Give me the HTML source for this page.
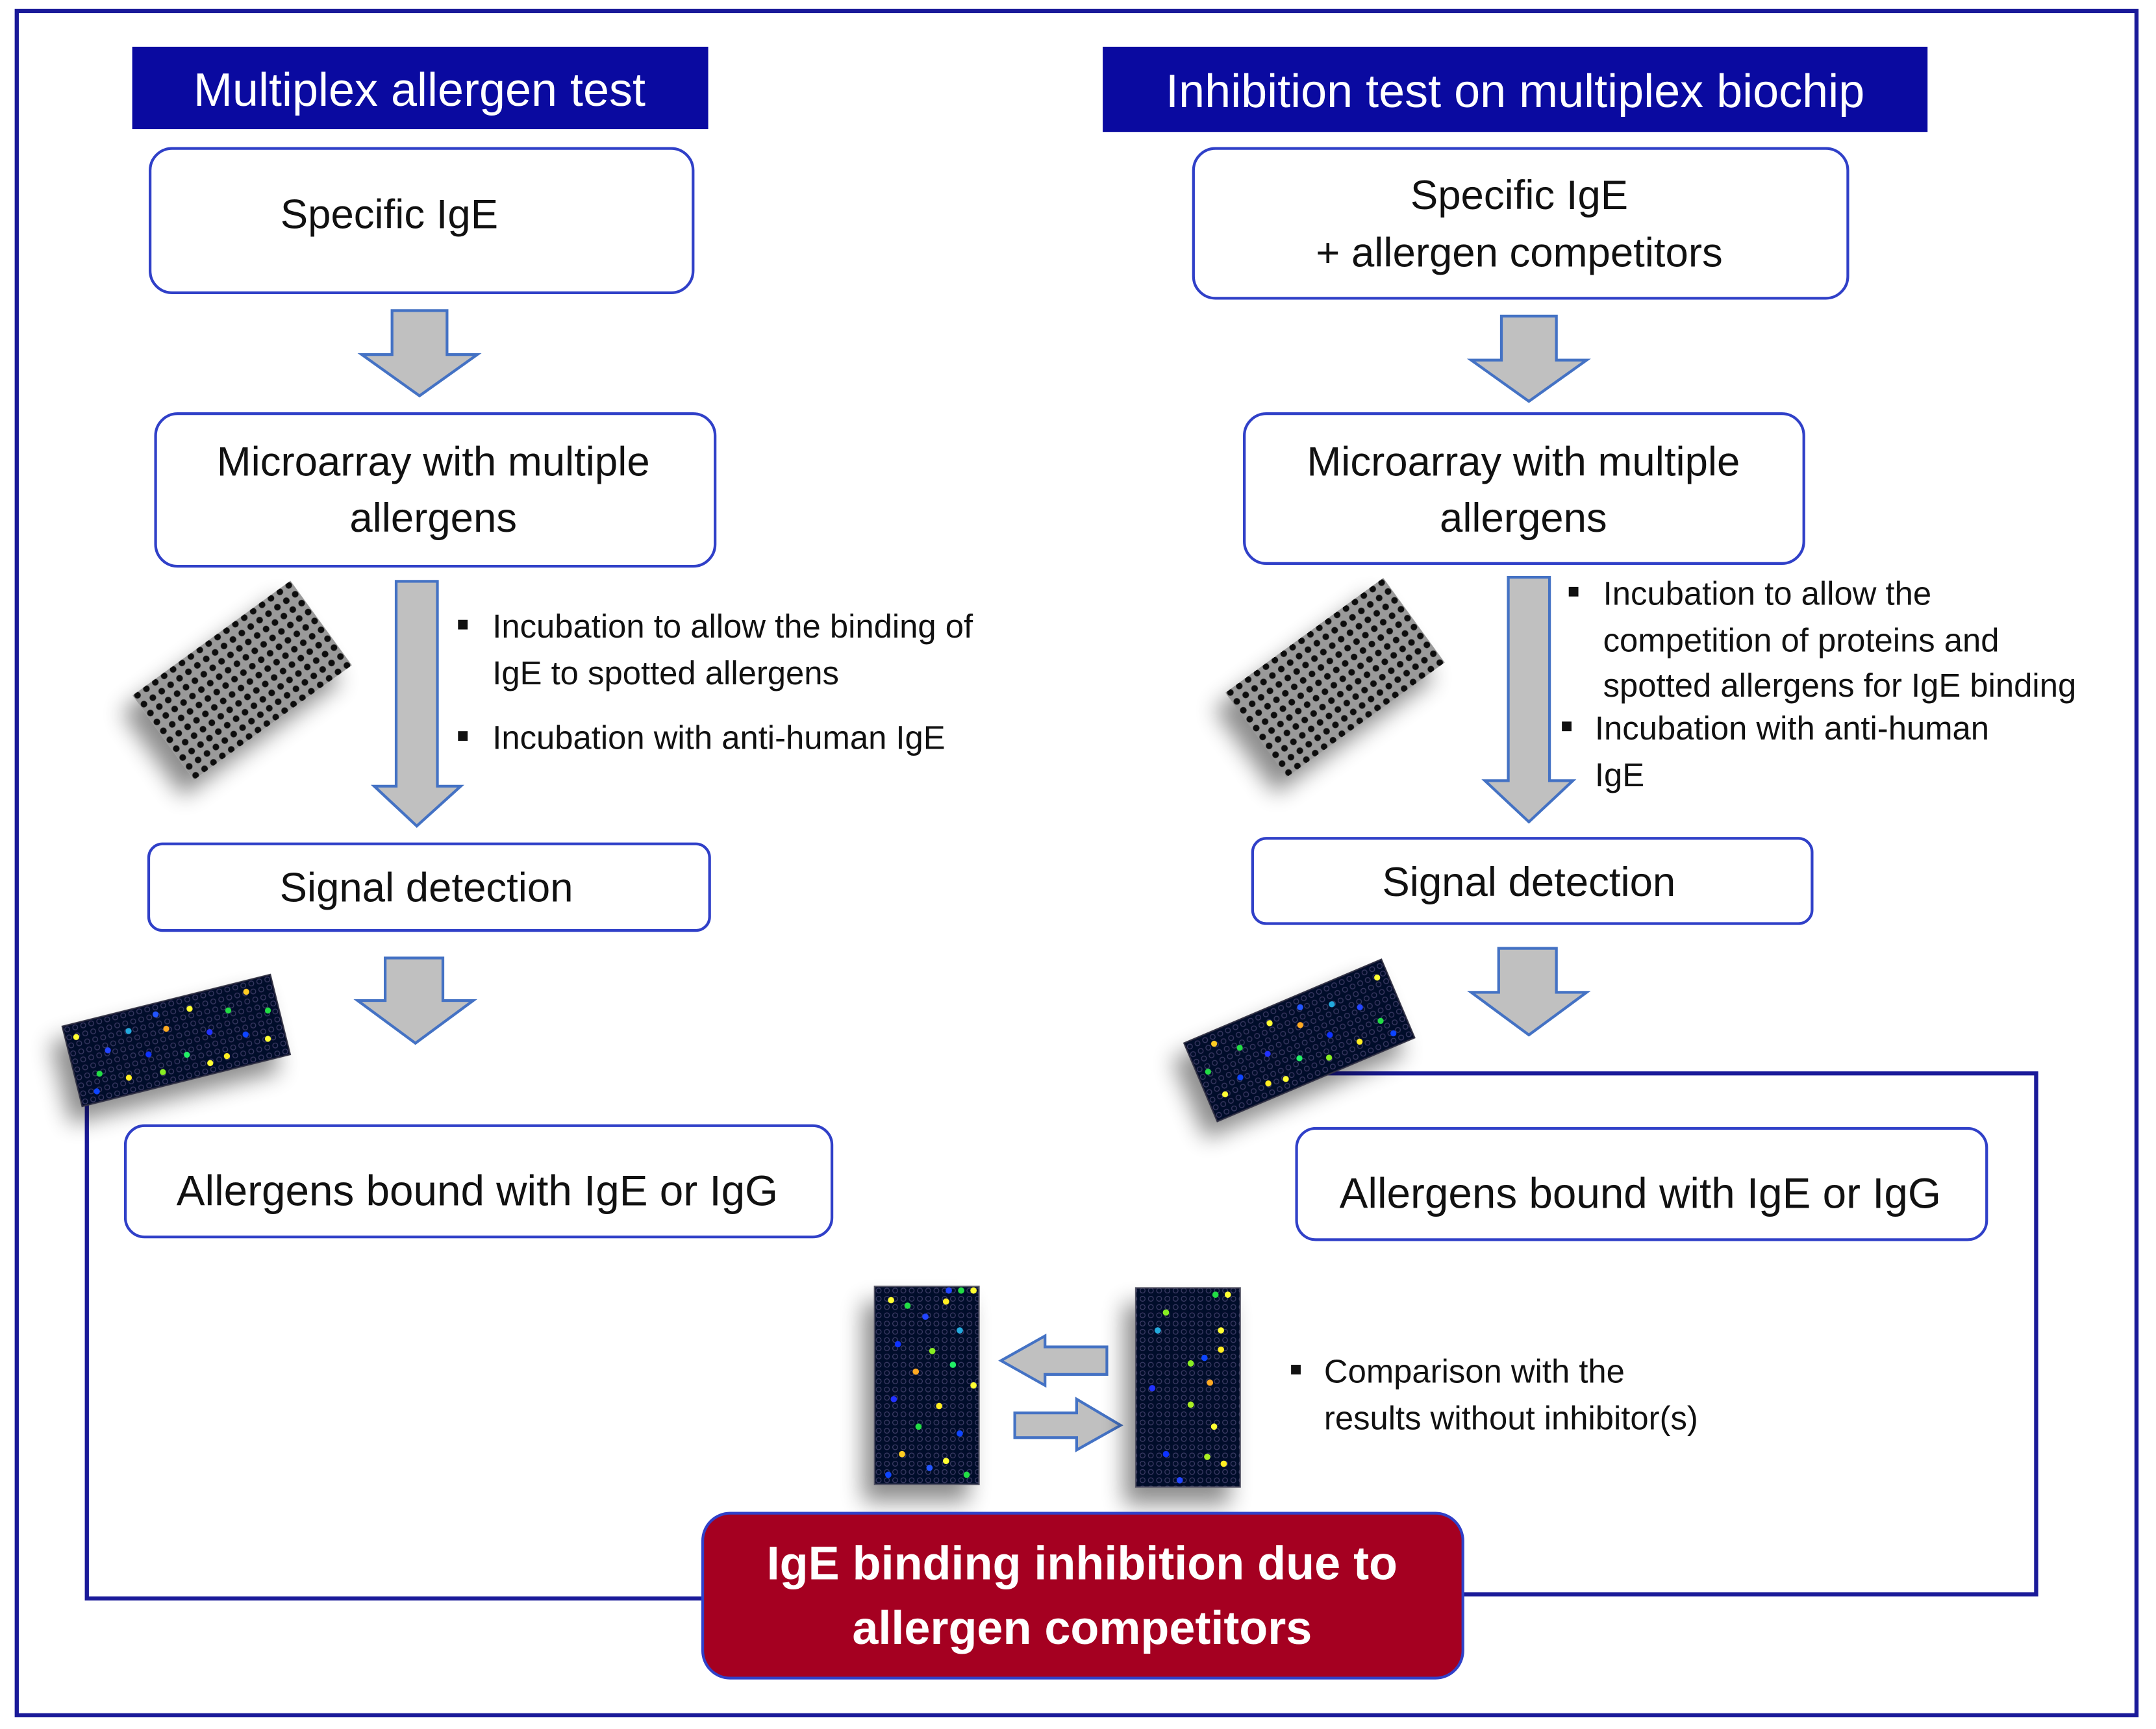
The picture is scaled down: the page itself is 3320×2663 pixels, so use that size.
<!DOCTYPE html>
<html><head><meta charset="utf-8"><style>
html,body{margin:0;padding:0;background:#fff;}
svg{display:block;}
text{font-family:"Liberation Sans",sans-serif;}
</style></head><body>
<svg width="3320" height="2663" viewBox="0 0 1568 1258" xmlns="http://www.w3.org/2000/svg">
<defs>
<pattern id="gp" width="8" height="8" patternUnits="userSpaceOnUse">
<rect width="8" height="8" fill="#9a9a9a"/><circle cx="4" cy="4" r="2.4" fill="#111"/>
</pattern>
<pattern id="dp" width="6" height="6" patternUnits="userSpaceOnUse">
<rect width="6" height="6" fill="#05082a"/><circle cx="3" cy="3" r="1.8" fill="none" stroke="#3a3f66" stroke-width="0.6"/>
</pattern>
<filter id="sh" x="-50%" y="-50%" width="200%" height="200%"><feGaussianBlur in="SourceAlpha" stdDeviation="8"/><feOffset dx="-8" dy="12"/><feComponentTransfer><feFuncA type="linear" slope="0.45"/></feComponentTransfer><feMerge><feMergeNode/><feMergeNode in="SourceGraphic"/></feMerge></filter>
<g id="cols">
<circle cx="10" cy="8" r="2.3" fill="#ffff33"/><circle cx="22" cy="12" r="2.3" fill="#22dd44"/><circle cx="35" cy="20" r="2.3" fill="#2244ff"/><circle cx="50" cy="9" r="2.3" fill="#ffee22"/><circle cx="60" cy="30" r="2.3" fill="#22aadd"/><circle cx="15" cy="40" r="2.3" fill="#1133ff"/><circle cx="40" cy="45" r="2.3" fill="#88ee22"/><circle cx="28" cy="60" r="2.3" fill="#ffaa22"/><circle cx="55" cy="55" r="2.3" fill="#22ee66"/><circle cx="70" cy="70" r="2.3" fill="#ffff33"/><circle cx="12" cy="80" r="2.3" fill="#2233ff"/><circle cx="45" cy="85" r="2.3" fill="#ffee22"/><circle cx="30" cy="100" r="2.3" fill="#22dd44"/><circle cx="60" cy="105" r="2.3" fill="#1144ff"/><circle cx="18" cy="120" r="2.3" fill="#ffcc22"/><circle cx="50" cy="125" r="2.3" fill="#ffff33"/><circle cx="65" cy="135" r="2.3" fill="#22dd44"/><circle cx="8" cy="135" r="2.3" fill="#1144ff"/><circle cx="38" cy="130" r="2.3" fill="#2255ff"/>
</g>
<g id="hdots">
<circle cx="-70" cy="-20" r="2.2" fill="#ffff33"/><circle cx="-60" cy="10" r="2.2" fill="#22dd44"/><circle cx="-50" cy="-5" r="2.2" fill="#2244ff"/><circle cx="-40" cy="18" r="2.2" fill="#ffee22"/><circle cx="-32" cy="-15" r="2.2" fill="#22aadd"/><circle cx="-22" cy="5" r="2.2" fill="#1133ff"/><circle cx="-15" cy="20" r="2.2" fill="#88ee22"/><circle cx="-5" cy="-10" r="2.2" fill="#ffaa22"/><circle cx="5" cy="12" r="2.2" fill="#22ee66"/><circle cx="15" cy="-20" r="2.2" fill="#ffff33"/><circle cx="25" cy="0" r="2.2" fill="#2233ff"/><circle cx="33" cy="20" r="2.2" fill="#ffee22"/><circle cx="42" cy="-12" r="2.2" fill="#22dd44"/><circle cx="50" cy="8" r="2.2" fill="#1144ff"/><circle cx="58" cy="-22" r="2.2" fill="#ffcc22"/><circle cx="65" cy="15" r="2.2" fill="#ffff33"/><circle cx="70" cy="-5" r="2.2" fill="#22dd44"/><circle cx="-65" cy="22" r="2.2" fill="#1144ff"/><circle cx="-10" cy="-22" r="2.2" fill="#2255ff"/><circle cx="20" cy="22" r="2.2" fill="#ffff33"/>
</g>
</defs>

<rect x="12" y="8" width="1542" height="1240" fill="none" stroke="#1a1a99" stroke-width="3"/>

<polyline points="63,795 63,1163 512,1163" fill="none" stroke="#1a1a99" stroke-width="3"/>
<polyline points="965,781 1481,781 1481,1160 1064,1160" fill="none" stroke="#1a1a99" stroke-width="3"/>

<rect x="96" y="34" width="419" height="60" fill="#0a0aa0"/>
<text x="305" y="77" font-size="34" fill="#fff" text-anchor="middle">Multiplex allergen test</text>
<rect x="802" y="34" width="600" height="62" fill="#0a0aa0"/>
<text x="1102" y="78" font-size="34" fill="#fff" text-anchor="middle">Inhibition test on multiplex biochip</text>

<g fill="#fff" stroke="#3040c8" stroke-width="2">
<rect x="109" y="108" width="395" height="105" rx="16"/>
<rect x="113" y="301" width="407" height="111" rx="16"/>
<rect x="108" y="614" width="408" height="63" rx="10"/>
<rect x="91" y="819" width="514" height="81" rx="14"/>
<rect x="868" y="108" width="476" height="109" rx="16"/>
<rect x="905" y="301" width="407" height="109" rx="16"/>
<rect x="911" y="610" width="407" height="62" rx="10"/>
<rect x="943" y="821" width="502" height="81" rx="14"/>
</g>
<g font-size="30" fill="#111" text-anchor="middle">
<text x="283" y="166">Specific IgE</text>
<text x="315" y="346">Microarray with multiple</text>
<text x="315" y="387">allergens</text>
<text x="310" y="656">Signal detection</text>
<text x="347" y="877" font-size="31">Allergens bound with IgE or IgG</text>
<text x="1105" y="152">Specific IgE</text>
<text x="1105" y="194">+ allergen competitors</text>
<text x="1108" y="346">Microarray with multiple</text>
<text x="1108" y="387">allergens</text>
<text x="1112" y="652">Signal detection</text>
<text x="1193" y="879" font-size="31">Allergens bound with IgE or IgG</text>
</g>

<g fill="#c0c0c0" stroke="#4472c4" stroke-width="2">
<polygon points="285,226 325,226 325,258 347,258 305,288 263,258 285,258"/>
<polygon points="288,423 318,423 318,572 335,572 303,601 272,572 288,572"/>
<polygon points="280,697 322,697 322,728 344,728 302,759 260,728 280,728"/>
<polygon points="1092,230 1132,230 1132,262 1154,262 1112,292 1070,262 1092,262"/>
<polygon points="1097,420 1127,420 1127,568 1144,568 1112,598 1080,568 1097,568"/>
<polygon points="1090,690 1132,690 1132,722 1154,722 1112,753 1070,722 1090,722"/>
<polygon points="805,980 805,1000 760,1000 760,1008 728,990 760,972 760,980"/>
<polygon points="738,1028 783,1028 783,1018 815,1037 783,1055 783,1046 738,1046"/>
</g>

<g font-size="24" fill="#111">
<rect x="333" y="451" width="7" height="7"/><text x="358" y="464">Incubation to allow the binding of</text>
<text x="358" y="498">IgE to spotted allergens</text>
<rect x="333" y="532" width="7" height="7"/><text x="358" y="545">Incubation with anti-human IgE</text>
<rect x="1141" y="427" width="7" height="7"/><text x="1166" y="440">Incubation to allow the</text>
<text x="1166" y="474">competition of proteins and</text>
<text x="1166" y="507">spotted allergens for IgE binding</text>
<rect x="1136" y="525" width="7" height="7"/><text x="1160" y="538">Incubation with anti-human</text>
<text x="1160" y="572">IgE</text>
<rect x="939" y="993" width="7" height="7"/><text x="963" y="1006">Comparison with the</text>
<text x="963" y="1040">results without inhibitor(s)</text>
</g>

<g filter="url(#sh)">
<rect x="-71" y="-38" width="142" height="76" fill="url(#gp)" transform="translate(176,495) rotate(-36)"/>
<rect x="-71" y="-38" width="142" height="76" fill="url(#gp)" transform="translate(971,493) rotate(-36)"/>
</g>

<g filter="url(#sh)">
<g transform="translate(128,757) rotate(-14)">
<rect x="-78" y="-30" width="156" height="60" fill="url(#dp)" stroke="#334" stroke-width="1"/>
<use href="#hdots"/>
</g>
<g transform="translate(945,757) rotate(-23)">
<rect x="-78" y="-31" width="156" height="62" fill="url(#dp)" stroke="#334" stroke-width="1"/>
<use href="#hdots" transform="scale(-1,1)"/>
</g>
</g>

<g filter="url(#sh)">
<rect x="636" y="936" width="76" height="144" fill="url(#dp)" stroke="#556" stroke-width="1"/>
<use href="#cols" x="638" y="938"/>
<rect x="826" y="937" width="76" height="145" fill="url(#dp)" stroke="#556" stroke-width="1"/>
<g transform="translate(828,940)"><circle cx="20" cy="15" r="2.3" fill="#88ee22"/><circle cx="14" cy="28" r="2.3" fill="#22aadd"/><circle cx="60" cy="28" r="2.3" fill="#ffff33"/><circle cx="60" cy="42" r="2.3" fill="#ffee22"/><circle cx="48" cy="48" r="2.3" fill="#1144ff"/><circle cx="38" cy="52" r="2.3" fill="#88ee22"/><circle cx="52" cy="66" r="2.3" fill="#ffaa22"/><circle cx="10" cy="70" r="2.3" fill="#2233ff"/><circle cx="38" cy="82" r="2.3" fill="#aaee22"/><circle cx="55" cy="98" r="2.3" fill="#ffff33"/><circle cx="20" cy="118" r="2.3" fill="#1133ff"/><circle cx="50" cy="120" r="2.3" fill="#aaee22"/><circle cx="62" cy="125" r="2.3" fill="#ffee22"/><circle cx="30" cy="137" r="2.3" fill="#2244ff"/></g>
<circle cx="699" cy="939" r="2.3" fill="#22dd44"/><circle cx="708" cy="939" r="2.3" fill="#ffff33"/><circle cx="690" cy="939" r="2.3" fill="#2244ff"/>
<circle cx="893" cy="942" r="2.3" fill="#ffff33"/><circle cx="884" cy="942" r="2.3" fill="#22dd44"/>
</g>

<rect x="511" y="1101" width="553" height="120" rx="20" fill="#a50021" stroke="#3040c8" stroke-width="2"/>
<text x="787" y="1149" font-size="34" font-weight="bold" fill="#fff" text-anchor="middle">IgE binding inhibition due to</text>
<text x="787" y="1196" font-size="34" font-weight="bold" fill="#fff" text-anchor="middle">allergen competitors</text>
</svg>
</body></html>
